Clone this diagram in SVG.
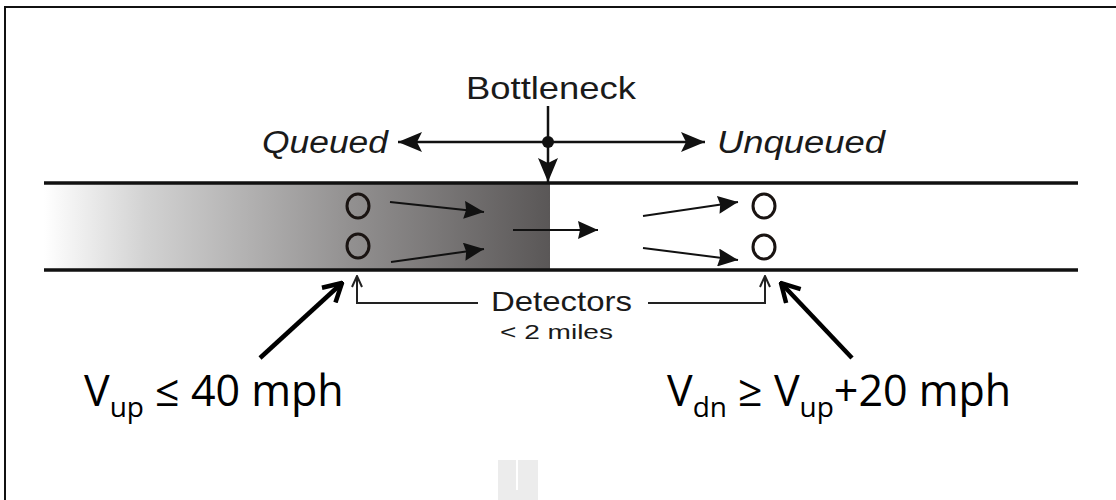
<svg xmlns="http://www.w3.org/2000/svg" width="1116" height="500" viewBox="0 0 1116 500">
<defs>
<linearGradient id="queue" x1="0" y1="0" x2="1" y2="0">
<stop offset="0" stop-color="#ffffff"/>
<stop offset="0.2" stop-color="#d2d2d2"/>
<stop offset="0.6" stop-color="#939191"/>
<stop offset="1" stop-color="#5a5757"/>
</linearGradient>
<marker id="flow" viewBox="0 0 20 18" refX="20" refY="9" markerWidth="20" markerHeight="18" markerUnits="userSpaceOnUse" orient="auto">
<path d="M0,0 L20,9 L0,18 L2,9 Z" fill="#111"/>
</marker>
<marker id="bn" viewBox="0 0 24 20" refX="24" refY="10" markerWidth="24" markerHeight="20" markerUnits="userSpaceOnUse" orient="auto">
<path d="M0,0 L24,10 L0,20 L5,10 Z" fill="#111"/>
</marker>
<marker id="thin" viewBox="0 0 14 12" refX="13" refY="6" markerWidth="14" markerHeight="12" markerUnits="userSpaceOnUse" orient="auto">
<path d="M2,1 L13,6 L2,11" fill="none" stroke="#222" stroke-width="2"/>
</marker>
<marker id="chev" viewBox="0 0 24 24" refX="22" refY="12" markerWidth="24" markerHeight="24" markerUnits="userSpaceOnUse" orient="auto">
<path d="M4,2 L22,12 L4,22" fill="none" stroke="#000" stroke-width="4.5"/>
</marker>
</defs>
<style>
.road{stroke:#111;stroke-width:3.5}
.det{fill:none;stroke:#1a1412;stroke-width:3}
.fl{stroke:#111;stroke-width:2;fill:none}
.lab{font-family:"Liberation Sans",Arial,sans-serif;fill:#1a1a1a}
.it{font-style:italic}
.big{font-family:"Open Sans","Liberation Sans",sans-serif;fill:#000;font-size:43px}
</style>
<rect x="0" y="0" width="1116" height="500" fill="#fff"/>
<path d="M5,500 L5,7 L1116,7" fill="none" stroke="#111" stroke-width="2"/>
<path d="M498,460 h40 v40 h-40 Z" fill="#ececec"/>
<line x1="517" y1="460" x2="517" y2="490" stroke="#fff" stroke-width="2"/>

<g id="road">
<rect x="44" y="184" width="506" height="86" fill="url(#queue)"/>
<line class="road" x1="44" y1="183" x2="1078" y2="183"/>
<line class="road" x1="44" y1="270" x2="1078" y2="270"/>
</g>

<g id="bottleneck">
<text class="lab" x="466" y="99" font-size="32" textLength="170" lengthAdjust="spacingAndGlyphs">Bottleneck</text>
<circle cx="548" cy="142" r="6" fill="#111"/>
</g>
<g id="queued"><text class="lab it" x="262" y="153" font-size="31" textLength="126" lengthAdjust="spacingAndGlyphs">Queued</text></g>
<g id="unqueued"><text class="lab it" x="717" y="153" font-size="31" textLength="168" lengthAdjust="spacingAndGlyphs">Unqueued</text></g>

<g id="upstream-detectors">
<ellipse class="det" cx="358" cy="206" rx="11" ry="12"/>
<ellipse class="det" cx="358" cy="246" rx="11" ry="12"/>
</g>
<g id="downstream-detectors">
<ellipse class="det" cx="764" cy="206" rx="11" ry="12"/>
<ellipse class="det" cx="764" cy="247" rx="11" ry="12"/>
</g>

<g id="detectors-label">
<text class="lab" x="491" y="311" font-size="28" textLength="141" lengthAdjust="spacingAndGlyphs">Detectors</text>
<text class="lab" x="500" y="339" font-size="20" textLength="113" lengthAdjust="spacingAndGlyphs">&lt; 2 miles</text>
</g>

<g id="vup">
<text class="big" x="84" y="406">V<tspan font-size="28" dy="11">up</tspan><tspan dy="-11"> ≤ 40 mph</tspan></text>
</g>
<g id="vdn">
<text class="big" x="667" y="406">V<tspan font-size="28" dy="11">dn</tspan><tspan dy="-11"> ≥ V</tspan><tspan font-size="28" dy="11">up</tspan><tspan dy="-11">+20 mph</tspan></text>
</g>

<g id="connectors">
<line x1="548" y1="106" x2="548" y2="182" stroke="#111" stroke-width="2.5" marker-end="url(#bn)"/>
<line x1="548" y1="142" x2="398" y2="142" stroke="#111" stroke-width="2.5" marker-end="url(#bn)"/>
<line x1="548" y1="142" x2="705" y2="142" stroke="#111" stroke-width="2.5" marker-end="url(#bn)"/>
<line class="fl" x1="390" y1="202" x2="484" y2="212" marker-end="url(#flow)"/>
<line class="fl" x1="391" y1="262" x2="484" y2="249" marker-end="url(#flow)"/>
<line class="fl" x1="513" y1="230" x2="598" y2="230" marker-end="url(#flow)"/>
<line class="fl" x1="643" y1="216" x2="738" y2="202" marker-end="url(#flow)"/>
<line class="fl" x1="643" y1="248" x2="738" y2="260" marker-end="url(#flow)"/>
<polyline points="478,303 357,303 357,276" fill="none" stroke="#222" stroke-width="2" marker-end="url(#thin)"/>
<polyline points="648,303 765,303 765,276" fill="none" stroke="#222" stroke-width="2" marker-end="url(#thin)"/>
<line x1="260" y1="358" x2="342" y2="283" stroke="#000" stroke-width="4.5" marker-end="url(#chev)"/>
<line x1="852" y1="358" x2="781" y2="283" stroke="#000" stroke-width="4.5" marker-end="url(#chev)"/>
</g>
</svg>
